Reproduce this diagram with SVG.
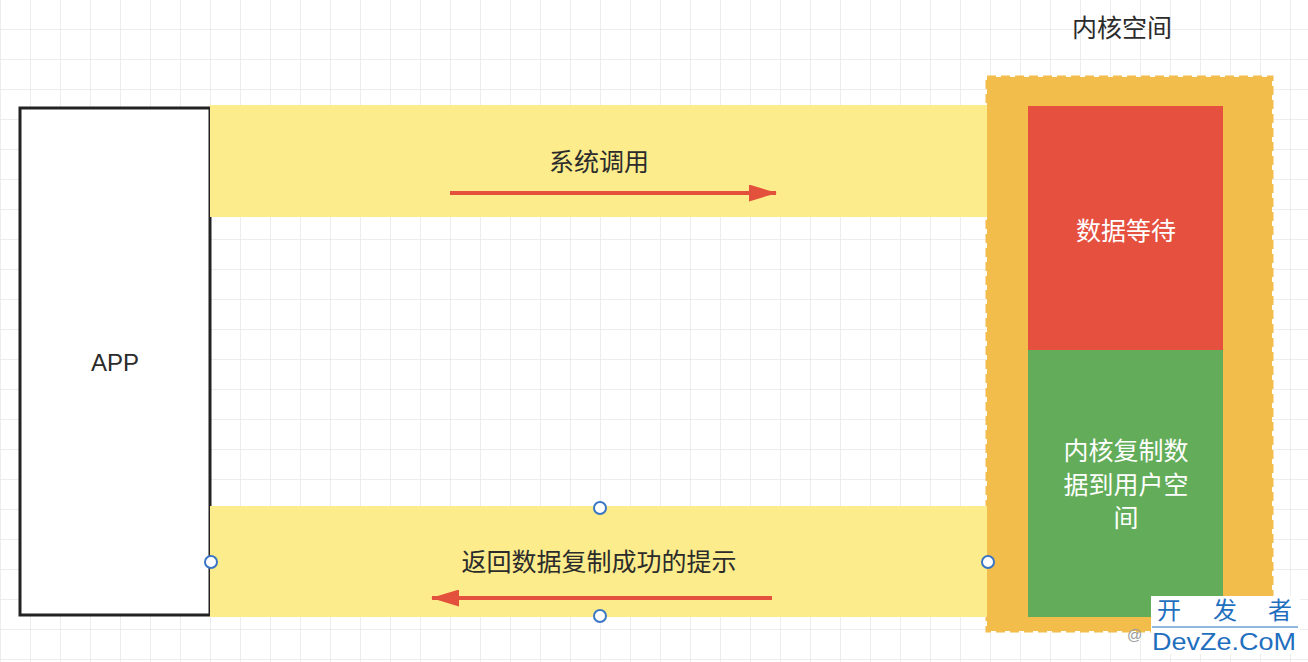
<svg xmlns="http://www.w3.org/2000/svg" width="1308" height="662" viewBox="0 0 1308 662">
<defs>
<pattern id="grid" x="1" y="0" width="30" height="30" patternUnits="userSpaceOnUse">
<path d="M30 0V30M0 30H30" fill="none" stroke="#e8e8e8" stroke-width="1.5"/>
</pattern>
<marker id="ah" viewBox="0 0 28 17" refX="27" refY="8.5" markerWidth="28" markerHeight="17" markerUnits="userSpaceOnUse" orient="auto">
<path d="M0 0L28 8.5L0 17Z" fill="#e3513d"/>
</marker>
<style>
.lbl{font-family:"Noto Sans CJK SC","Liberation Sans",sans-serif;font-size:25px;fill:#2b2b2b;text-anchor:middle}
.wl{font-family:"Noto Sans CJK SC","Liberation Sans",sans-serif;font-size:25px;fill:#ffffff;text-anchor:middle}
.band{fill:#fcec8b}
.arrow{stroke:#e3513d;stroke-width:4;fill:none;marker-end:url(#ah)}
.handle{fill:#ffffff;stroke:#3a76c4;stroke-width:2}
.wm{font-family:"Noto Sans CJK SC","Liberation Sans",sans-serif;fill:#1f6fbf}
</style>
</defs>
<rect width="1308" height="662" fill="#ffffff"/>
<rect width="1308" height="662" fill="url(#grid)"/>

<g id="app">
<rect x="20" y="108" width="190" height="507" fill="#ffffff" stroke="#222222" stroke-width="3"/>
<text x="115" y="371" class="lbl" style="font-family:'Liberation Sans',sans-serif;font-size:24px">APP</text>
</g>

<g id="kernel-space">
<rect x="987" y="77" width="285" height="554" fill="#f2bd4b" stroke="#f2bd4b" stroke-width="3" stroke-dasharray="9 5"/>
<text x="1122" y="37" class="lbl">内核空间</text>
</g>

<g id="band-call">
<rect x="210" y="105" width="777" height="112" class="band"/>
<text x="599" y="171" class="lbl">系统调用</text>
</g>

<g id="band-return">
<rect x="210" y="506" width="777" height="111" class="band"/>
<text x="599" y="571" class="lbl">返回数据复制成功的提示</text>
</g>

<g id="data-wait">
<rect x="1028" y="106" width="195" height="244" fill="#e5503f"/>
<text x="1126" y="240" class="wl">数据等待</text>
</g>

<g id="kernel-copy">
<rect x="1028" y="350" width="195" height="267" fill="#63ad5a"/>
<text class="wl"><tspan x="1126" y="460">内核复制数</tspan><tspan x="1126" y="494">据到用户空</tspan><tspan x="1126" y="527">间</tspan></text>
</g>

<g id="connectors">
<line x1="450" y1="193" x2="776" y2="193" class="arrow"/>
<line x1="772" y1="598" x2="432" y2="598" class="arrow"/>
</g>

<g id="handles">
<circle cx="600" cy="508" r="6" class="handle"/>
<circle cx="211" cy="562" r="6" class="handle"/>
<circle cx="988" cy="562" r="6" class="handle"/>
<circle cx="600" cy="616" r="6" class="handle"/>
</g>

<g id="watermark">
<text x="1127" y="640" style="font-family:'Liberation Sans',sans-serif;font-size:15px;fill:#9a9a9a">@</text>
<rect x="1151" y="596" width="149" height="58" fill="#ffffff"/>
<text x="1169" y="619" class="wm" style="font-size:24px;text-anchor:middle">开</text>
<text x="1225" y="619" class="wm" style="font-size:24px;text-anchor:middle">发</text>
<text x="1280" y="619" class="wm" style="font-size:24px;text-anchor:middle">者</text>
<line x1="1152" y1="627" x2="1298" y2="627" stroke="#1f6fbf" stroke-width="1"/>
<text x="1152" y="650" class="wm" style="font-family:'Liberation Sans',sans-serif;font-size:23px" textLength="144" lengthAdjust="spacingAndGlyphs">DevZe.CoM</text>
</g>
</svg>
